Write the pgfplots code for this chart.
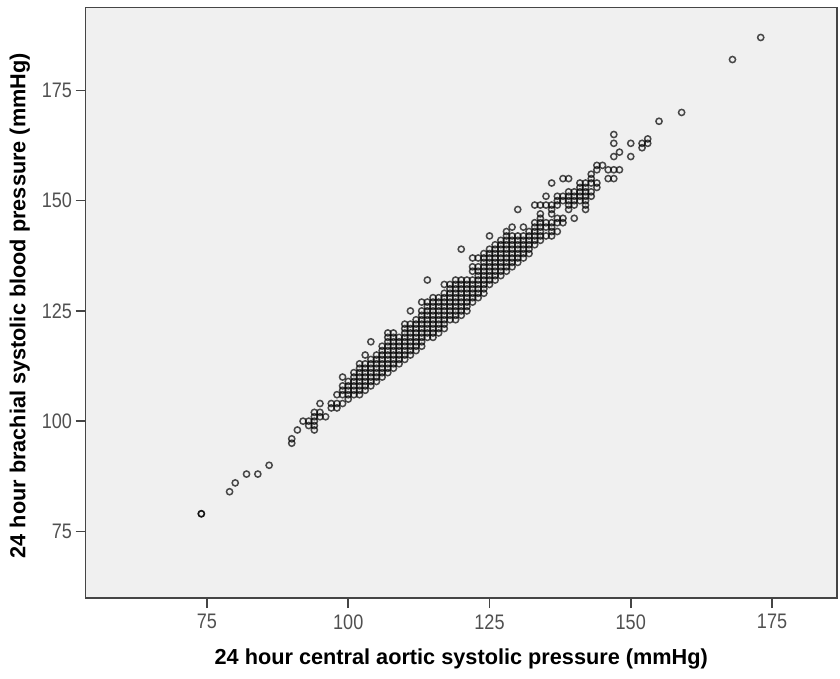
\documentclass[border=0pt]{standalone}
\usepackage{fontspec}
\setmainfont{Liberation Sans}
\newfontfamily\tickfont[FakeStretch=0.86]{Liberation Sans}
\usepackage{pgfplots}
\pgfplotsset{compat=1.18}
\definecolor{panel}{HTML}{F0F0F0}
\definecolor{spine}{HTML}{454545}
\definecolor{ticktext}{HTML}{505050}

\begin{document}
\begin{tikzpicture}[x=1pt,y=1pt]
\path[use as bounding box] (-85.5,-80) rectangle (754.5,598);
\begin{axis}[
    at={(0,0)},anchor=south west,
    scale only axis,
    width=751.5pt,height=590.5pt,
    xmin=53.5,xmax=186.5,
    ymin=59.9,ymax=193.8,
    axis background/.style={fill=panel},
    axis line style={spine,line width=1.9pt},
    xtick={75,100,125,150,175},
    ytick={75,100,125,150,175},
    tick style={spine,line width=1.6pt},
    tick align=outside,
    major tick length=10pt,
    tick pos=lower,
    /pgf/number format/assume math mode=true,
    ticklabel style={font=\tickfont\fontsize{21}{24}\selectfont,text=ticktext},
    xticklabel style={yshift=-3pt},
    xlabel={\textbf{24 hour central aortic systolic pressure (mmHg)}},
    ylabel={\textbf{24 hour brachial systolic blood pressure (mmHg)}},
    label style={font=\fontsize{21.7}{25}\selectfont,text=black},
    xlabel style={at={(axis description cs:0.5,0)},anchor=north,yshift=-47pt},
    ylabel style={at={(axis description cs:0,0.5)},anchor=south,yshift=52pt,xshift=-3pt},
]
\addplot[only marks,mark=o,mark size=3.1pt,
  mark options={draw=black,line width=1.5pt,draw opacity=0.7}]
coordinates {
(74,79)(74,79)(79,84)(80,86)(82,88)(84,88)(86,90)
(90,95)(90,96)(91,98)(92,100)
(93,100)(93,99)
(94,98)(94,99)(94,100)(94,101)(94,102)
(95,101)(95,102)(95,104)(96,101)
(97,103)(97,104)(98,103)(98,104)(98,106)
(99,104)(99,106)(99,107)(99,108)(99,110)
(100,105)(100,106)(100,107)(100,108)(100,109)
(101,106)(101,107)(101,108)(101,109)(101,110)(101,111)
(102,106)(102,107)(102,108)(102,109)(102,110)(102,111)(102,112)(102,113)
(103,107)(103,108)(103,109)(103,110)(103,111)(103,112)(103,113)(103,115)
(104,108)(104,109)(104,110)(104,111)(104,112)(104,113)(104,114)(104,118)
(105,109)(105,110)(105,111)(105,112)(105,113)(105,114)(105,115)
(106,110)(106,111)(106,112)(106,113)(106,114)(106,115)(106,116)(106,117)
(107,111)(107,112)(107,113)(107,114)(107,115)(107,116)(107,117)(107,118)(107,119)(107,120)
(108,112)(108,113)(108,114)(108,115)(108,116)(108,117)(108,118)(108,119)(108,120)
(109,113)(109,114)(109,115)(109,116)(109,117)(109,118)(109,119)
(110,114)(110,115)(110,116)(110,117)(110,118)(110,119)(110,120)(110,121)(110,122)
(111,115)(111,116)(111,117)(111,118)(111,119)(111,120)(111,121)(111,122)(111,125)
(112,116)(112,117)(112,118)(112,119)(112,120)(112,121)(112,122)(112,123)
(113,117)(113,118)(113,119)(113,120)(113,121)(113,122)(113,123)(113,124)(113,125)(113,127)
(114,119)(114,120)(114,121)(114,122)(114,123)(114,124)(114,125)(114,126)(114,127)(114,132)
(115,119)(115,120)(115,121)(115,122)(115,123)(115,124)(115,125)(115,126)(115,127)(115,128)
(116,120)(116,121)(116,122)(116,123)(116,124)(116,125)(116,126)(116,127)(116,128)
(117,121)(117,122)(117,123)(117,124)(117,125)(117,126)(117,127)(117,128)(117,129)(117,131)
(118,123)(118,124)(118,125)(118,126)(118,127)(118,128)(118,129)(118,130)(118,131)
(119,123)(119,124)(119,125)(119,126)(119,127)(119,128)(119,129)(119,130)(119,131)(119,132)
(120,124)(120,125)(120,126)(120,127)(120,128)(120,129)(120,130)(120,131)(120,132)(120,139)
(121,125)(121,126)(121,127)(121,128)(121,129)(121,130)(121,131)(121,132)
(122,127)(122,128)(122,129)(122,130)(122,131)(122,132)(122,134)(122,135)(122,137)
(123,128)(123,129)(123,130)(123,131)(123,132)(123,133)(123,134)(123,135)(123,137)
(124,129)(124,130)(124,131)(124,132)(124,133)(124,134)(124,135)(124,136)(124,137)(124,138)
(125,131)(125,132)(125,133)(125,134)(125,135)(125,136)(125,137)(125,138)(125,139)(125,142)
(126,132)(126,133)(126,134)(126,135)(126,136)(126,137)(126,138)(126,139)(126,140)
(127,133)(127,134)(127,135)(127,136)(127,137)(127,138)(127,139)(127,140)(127,141)
(128,134)(128,135)(128,136)(128,137)(128,138)(128,139)(128,140)(128,141)(128,142)(128,143)
(129,135)(129,136)(129,137)(129,138)(129,139)(129,140)(129,141)(129,142)(129,144)
(130,136)(130,137)(130,138)(130,139)(130,140)(130,141)(130,142)(130,148)
(131,137)(131,138)(131,139)(131,140)(131,141)(131,142)(131,144)
(132,138)(132,139)(132,140)(132,141)(132,142)(132,143)
(133,140)(133,141)(133,142)(133,143)(133,144)(133,145)(133,149)
(134,141)(134,142)(134,143)(134,144)(134,145)(134,146)(134,147)(134,149)
(135,142)(135,144)(135,145)(135,149)(135,151)
(136,142)(136,143)(136,144)(136,145)(136,147)(136,148)(136,149)(136,154)
(137,143)(137,145)(137,146)(137,149)(137,150)(137,151)
(138,145)(138,146)(138,150)(138,151)(138,155)
(139,148)(139,149)(139,150)(139,151)(139,152)(139,155)
(140,146)(140,149)(140,150)(140,151)(140,152)
(141,150)(141,151)(141,152)(141,153)(141,154)
(142,148)(142,149)(142,150)(142,151)(142,152)(142,153)(142,154)
(143,151)(143,152)(143,154)(143,155)(143,156)
(144,153)(144,154)(144,157)(144,158)
(145,158)(146,155)(146,157)
(147,155)(147,157)(147,160)(147,163)(147,165)
(148,157)(148,161)
(150,160)(150,163)
(152,162)(152,163)(153,163)(153,164)
(155,168)(159,170)(168,182)(173,187)
};
\end{axis}
\end{tikzpicture}
\end{document}
